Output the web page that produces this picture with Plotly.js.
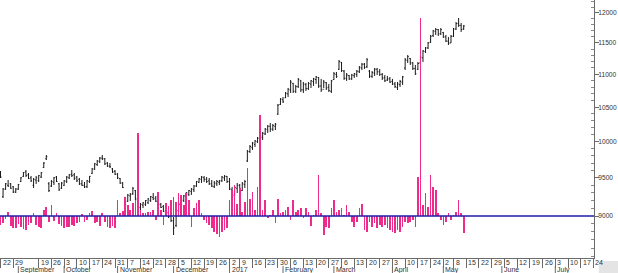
<!DOCTYPE html>
<html>
<head>
<meta charset="utf-8">
<script src="https://cdn.plot.ly/plotly-3.0.1.min.js"></script>
<style>
html,body{margin:0;padding:0;background:#fff;}
#chart{width:618px;height:273px;}
</style>
</head>
<body>
<div id="chart"></div>
<script>
// ---- Data (one bar per trading day) ----
const openP = [
9570,9250,9350,9400,9420,9380,9310,9350,9450,9520,
9580,9540,9500,9400,9470,9460,9510,9640,9760,9420,
9390,9440,9510,9420,9360,9400,9450,9500,9550,9540,
9510,9480,9420,9400,9380,9450,9560,9620,9680,9720,
9770,9760,9700,9660,9620,9590,9550,9490,9430,9240,
9190,9260,9290,9330,9200,9110,9140,9150,9170,9200,
9240,9230,9190,9150,9120,9080,9040,9000,8940,8880,
9070,9140,9200,9250,9280,9320,9340,9390,9440,9480,
9500,9480,9460,9420,9380,9420,9440,9460,9500,9520,
9450,9340,9270,9360,9400,9330,9410,9730,9860,9920,
9960,10000,10040,10060,10110,10170,10220,10180,10220,10400,
10540,10610,10640,10700,10760,10860,10740,10810,10900,10760,
10840,10780,10850,10890,10920,10950,10820,10770,10870,10800,
10740,10920,11000,11080,11190,11050,10940,10980,10930,10980,
11000,11040,11100,11160,11120,11050,10970,11020,11080,11040,
11000,10950,10910,10930,10890,10850,10800,10840,10880,11100,
11220,11250,11180,11090,11080,11180,11260,11360,11420,11510,
11620,11690,11720,11650,11670,11600,11530,11500,11610,11730,
11820,11790,11730];
const highP = [
9592,9364,9431,9471,9431,9391,9364,9418,9511,9579,
9606,9565,9525,9498,9525,9538,9579,9715,9812,9444,
9471,9511,9525,9431,9444,9471,9525,9552,9606,9565,
9525,9498,9471,9444,9471,9525,9633,9702,9743,9784,
9812,9770,9715,9702,9633,9606,9565,9498,9444,9246,
9285,9298,9378,9338,9206,9167,9180,9206,9233,9259,
9298,9259,9206,9167,9141,9102,9077,9038,8987,9077,
9167,9233,9272,9311,9338,9364,9404,9458,9498,9525,
9525,9511,9498,9471,9458,9471,9471,9525,9538,9525,
9498,9378,9391,9431,9418,9444,9471,9882,9952,9995,
10023,10066,10094,10137,10195,10238,10267,10253,10267,10548,
10637,10653,10729,10790,10913,10867,10836,10944,10913,10882,
10867,10882,10913,10944,10975,10959,10929,10913,10882,10852,
10913,11037,11037,11226,11194,11068,11021,10990,11006,11021,
11068,11131,11178,11178,11258,11068,11052,11100,11100,11084,
11021,10990,10975,10959,10929,10882,10882,10913,10975,11258,
11306,11258,11194,11147,11194,11290,11386,11434,11516,11631,
11714,11747,11730,11747,11681,11631,11598,11631,11747,11847,
11914,11831,11797];
const lowP = [
9498,9232,9338,9378,9351,9298,9298,9338,9444,9511,
9511,9484,9444,9364,9418,9444,9498,9633,9743,9311,
9378,9404,9444,9325,9351,9391,9431,9484,9511,9471,
9444,9404,9391,9364,9364,9431,9552,9606,9661,9702,
9743,9674,9647,9633,9565,9538,9484,9418,9364,9115,
9180,9193,9272,9206,9102,9077,9102,9128,9154,9180,
9206,9180,9141,9102,9051,9013,8975,8924,8761,8861,
9051,9115,9180,9233,9259,9272,9311,9378,9431,9431,
9444,9431,9404,9378,9364,9391,9404,9444,9458,9431,
9338,9233,9259,9298,9285,9325,9364,9715,9840,9882,
9924,9980,9995,10023,10094,10123,10137,10152,10166,10384,
10533,10563,10637,10653,10713,10713,10713,10790,10729,10713,
10744,10759,10790,10821,10852,10790,10729,10790,10759,10729,
10713,10913,10944,11068,11037,10913,10898,10913,10913,10944,
10959,11021,11068,11084,11100,10944,10944,10975,10990,10975,
10913,10882,10898,10867,10836,10790,10759,10805,10836,11068,
11178,11147,11068,10990,11068,11163,11194,11338,11402,11500,
11598,11631,11614,11631,11582,11516,11467,11500,11598,11714,
11764,11681,11714];
const closeP = [
9510,9350,9420,9390,9360,9310,9350,9410,9500,9570,
9530,9490,9460,9480,9500,9530,9570,9700,9790,9330,
9450,9500,9450,9340,9430,9460,9510,9540,9530,9490,
9460,9420,9400,9380,9460,9520,9620,9690,9730,9770,
9760,9690,9660,9650,9580,9550,9500,9430,9370,9140,
9270,9280,9360,9220,9120,9150,9170,9200,9220,9250,
9220,9190,9150,9110,9060,9030,8990,8940,8850,9060,
9150,9220,9260,9300,9330,9350,9390,9450,9490,9510,
9480,9450,9420,9390,9430,9450,9460,9510,9520,9450,
9350,9260,9370,9400,9320,9420,9450,9860,9930,9980,
10010,10050,10080,10120,10180,10220,10180,10230,10250,10530,
10620,10580,10710,10770,10880,10740,10810,10920,10760,10850,
10780,10860,10900,10930,10960,10820,10760,10880,10790,10750,
10900,11010,10970,11200,11060,10940,10990,10930,10990,11010,
11050,11110,11160,11110,11230,10970,11030,11080,11040,11000,
10940,10900,10930,10880,10850,10810,10850,10890,10960,11230,
11280,11180,11090,11010,11170,11270,11370,11420,11500,11610,
11700,11720,11650,11720,11600,11530,11500,11610,11730,11820,
11790,11720,11780];
// oscillator (pink bars), 0 = blue baseline
const volumeOsc = [
-9,-7,-3,4,-10,-12,-12,-8,-11,-13,
-14,-9,-7,3,-9,-11,-12,6,9,-6,
11,-5,3,-8,-10,-12,-11,-11,-9,-10,
-7,-6,2,-6,-4,3,5,-7,-6,-10,
3,-6,-11,-12,-10,-12,16,3,5,19,
11,6,13,16,83,6,3,3,4,4,
6,-4,24,6,-9,13,10,16,19,14,
23,21,11,23,16,-11,8,13,16,3,
-4,-7,-9,-12,-16,-18,-21,-16,-14,-12,
16,26,31,12,28,4,14,48,17,24,
6,29,101,6,16,-2,1,6,-7,17,
3,4,6,9,-4,16,4,6,8,-2,
8,4,-10,1,6,41,3,-19,-11,-12,
8,16,4,6,8,1,11,4,-6,-11,
-6,8,12,-14,-16,-6,-11,-7,-12,-9,
-11,-9,-12,-14,-16,-17,-14,-16,-11,-6,
-7,-6,-4,-11,39,198,11,23,9,41,
29,26,3,-4,-9,-6,3,-4,1,4,
16,3,-17];

// week ticks (trading-day index) and labels
const dayIdx = [0,5,15,20,25,30,35,40,45,50,55,60,65,70,75,80,85,90,94,99,104,109,114,119,124,129,134,139,144,149,154,159,164,169,174,178,183,188,193,198,203,208,213,218,223,228,233];
const dayLabels = ['22','29','19','26','3','10','17','24','31','7','14','21','28','5','12','19','26','2','9','16','23','30','6','13','20','27','6','13','20','27','3','10','17','24','2','8','15','22','29','5','12','19','26','3','10','17','24'];
const monthIdx = [7,25,46,68,90,111,131,154,174,197,218];
const monthLabels = ['September','October','November','December','2017','February','March','April','May','June','July'];
const yTicks = [9000,9500,10000,10500,11000,11500,12000];
const yMinor = [8500,8600,8700,8800,8900,9100,9200,9300,9400,9600,9700,9800,9900,10100,10200,10300,10400,10600,10700,10800,10900,11100,11200,11300,11400,11600,11700,11800,11900,12100,12200];

const idx = highP.map((_, i) => i);
const FONT = 'Liberation Sans, Arial, sans-serif';
const AX = '#6a6a6a';
const TXT = '#333';

const traces = [
  {
    type: 'ohlc', x: idx, open: openP, high: highP, low: lowP, close: closeP,
    xaxis: 'x', yaxis: 'y', tickwidth: 0.4,
    increasing: {line: {color: '#1a1a1a', width: 1}},
    decreasing: {line: {color: '#1a1a1a', width: 1}},
    hoverinfo: 'none', showlegend: false
  },
  {
    type: 'bar', x: idx, y: volumeOsc, xaxis: 'x', yaxis: 'y2', width: 0.65,
    marker: {color: '#ee2a8c', line: {width: 0}},
    hoverinfo: 'none', showlegend: false
  }
];

const PH = 258; // plot height in px (for paper offsets below the axis)
const shapes = [
  {type: 'line', xref: 'paper', x0: 0, x1: 1, yref: 'y2', y0: 0, y1: 0,
   line: {color: '#1e1ea8', width: 1.3}, layer: 'above'},
  {type: 'rect', xref: 'paper', x0: 1.008, x1: 1.05, yref: 'paper', y0: -3 / PH, y1: -16 / PH,
   fillcolor: '#e4e4e4', line: {width: 0}, layer: 'above'}
];
monthIdx.forEach(m => shapes.push({
  type: 'line', xref: 'x', x0: m, x1: m, yref: 'paper', y0: -8 / PH, y1: -16 / PH,
  line: {color: AX, width: 1}, layer: 'above'
}));

const annotations = [];
dayIdx.forEach((d, i) => annotations.push({
  xref: 'x', x: d, xanchor: 'left', xshift: 1,
  yref: 'paper', y: -4.8 / PH, yanchor: 'middle',
  text: dayLabels[i], showarrow: false, borderpad: 0,
  font: {family: FONT, size: 7, color: TXT}
}));
monthIdx.forEach((m, i) => annotations.push({
  xref: 'x', x: m, xanchor: 'left', xshift: 1,
  yref: 'paper', y: -11.8 / PH, yanchor: 'middle',
  text: monthLabels[i], showarrow: false, borderpad: 0,
  font: {family: FONT, size: 7, color: TXT}
}));

const layout = {
  width: 618, height: 273,
  margin: {l: 0, r: 24, t: 0, b: 15, pad: 0},
  paper_bgcolor: '#fff', plot_bgcolor: '#fff',
  showlegend: false, bargap: 0,
  font: {family: FONT, size: 7, color: TXT},
  xaxis: {
    range: [-0.2, 233.2], showgrid: false, zeroline: false,
    rangeslider: {visible: false},
    showline: true, linecolor: AX, linewidth: 1, mirror: false,
    ticks: 'outside', ticklen: 9, tickcolor: AX, tickwidth: 1,
    tickmode: 'array', tickvals: dayIdx, ticktext: dayLabels,
    showticklabels: false,
    automargin: false, fixedrange: true
  },
  yaxis: {
    type: 'log', side: 'right', anchor: 'x',
    range: [3.92840, 4.08714],
    showgrid: false, zeroline: false,
    showline: true, linecolor: AX, linewidth: 1,
    ticks: 'outside', ticklen: 4, tickcolor: AX, tickwidth: 1,
    tickmode: 'array', tickvals: yTicks, ticktext: yTicks.map(String),
    ticklabelstandoff: -2,
    tickfont: {family: FONT, size: 6.6, color: TXT},
    minor: {tickmode: 'array', tickvals: yMinor, ticks: 'inside', ticklen: 3, tickcolor: '#888', tickwidth: 1, showgrid: false},
    automargin: false, fixedrange: true
  },
  yaxis2: {
    overlaying: 'y', range: [-42, 216], visible: false, fixedrange: true
  },
  shapes: shapes,
  annotations: annotations
};

Plotly.newPlot('chart', traces, layout, {staticPlot: true, displayModeBar: false});
</script>
</body>
</html>
